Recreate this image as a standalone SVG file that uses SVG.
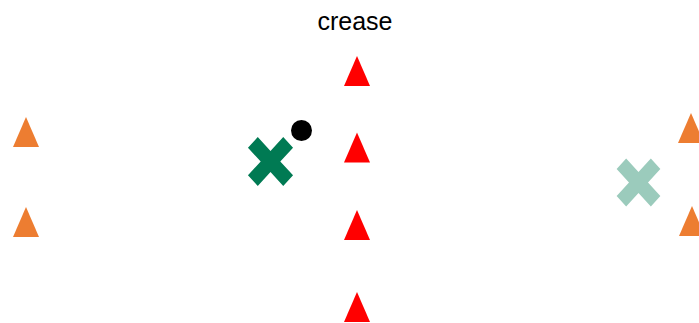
<svg xmlns="http://www.w3.org/2000/svg" width="699" height="323" viewBox="0 0 699 323">
<defs>
<style>
.red{fill:#FF0000}
.org{fill:#ED7D31}
.lbl{font-family:"Liberation Sans",Arial,sans-serif;font-size:25px;fill:#000}
</style>
<polygon id="tri" points="0,-15 -13,15 13,15"/>
<polygon id="xm" points="-13,-23 0,-10 13,-23 23,-13 10,0 23,13 13,23 0,10 -13,23 -23,13 -10,0 -23,-13"/>
</defs>
<rect width="699" height="323" fill="#fff"/>
<text class="lbl" x="355" y="30" text-anchor="middle">crease</text>
<g id="crease-markers">
<use href="#tri" class="red" x="357" y="71"/>
<use href="#tri" class="red" x="357" y="147.5"/>
<use href="#tri" class="red" x="357" y="225"/>
<use href="#tri" class="red" x="357" y="307"/>
</g>
<g id="left-markers">
<use href="#tri" class="org" x="26" y="132"/>
<use href="#tri" class="org" x="26" y="222"/>
</g>
<g id="right-markers">
<use href="#tri" class="org" x="691" y="128"/>
<use href="#tri" class="org" x="692" y="221"/>
</g>
<g id="green-x">
<use href="#xm" fill="#007A53" transform="translate(270.5,161.5) scale(0.98,1.06)"/>
</g>
<g id="dot">
<circle cx="301.5" cy="130.5" r="10.5" fill="#000"/>
</g>
<g id="teal-x">
<use href="#xm" fill="#9BCBBC" transform="translate(638.5,182.5) scale(0.95,1.04)"/>
</g>
<g id="connectors"/>
</svg>
